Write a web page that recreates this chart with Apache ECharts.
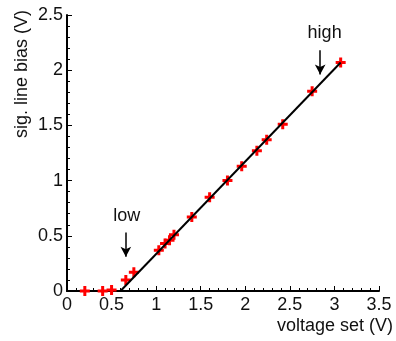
<!DOCTYPE html>
<html>
<head>
<meta charset="utf-8">
<script src="https://cdn.jsdelivr.net/npm/echarts@6/dist/echarts.min.js"></script>
<style>
  html, body { margin: 0; padding: 0; background: #fff; }
  #chart { width: 396px; height: 341px; }
</style>
</head>
<body>
<div id="chart"></div>
<script>
// measured points (voltage set, sig. line bias)
const voltageSet = [0.2, 0.4, 0.5, 0.66, 0.75, 1.03, 1.1, 1.15, 1.2, 1.4, 1.6, 1.8, 1.96, 2.13, 2.24, 2.42, 2.75, 3.07]
const lineBias = [0.0, 0.0, 0.01, 0.1, 0.17, 0.37, 0.43, 0.46, 0.51, 0.67, 0.85, 1.0, 1.13, 1.27, 1.37, 1.51, 1.81, 2.07]

// linear fit endpoints
const fitX = [0.6, 3.07]
const fitY = [0.0, 2.07]

// annotation arrows: [x, yFrom, yTo]
const lowArrow = [0.66, 0.53, 0.31]
const highArrow = [2.84, 2.18, 1.96]
const lowLabel = [0.67, 0.68]
const highLabel = [2.89, 2.34]

const font = 'Liberation Sans, Arial, sans-serif'
const fontSize = 18
const crossPath = 'path://M3.5,0h3v3.5h3.5v3h-3.5v3.5h-3v-3.5h-3.5v-3h3.5z'

const chart = echarts.init(document.getElementById('chart'))

chart.setOption({
  animation: false,
  grid: { left: 67, right: 15, top: 15, bottom: 50 },
  xAxis: {
    type: 'value',
    min: 0,
    max: 3.5,
    interval: 0.5,
    name: 'voltage set (V)',
    nameLocation: 'end',
    nameGap: 14,
    nameTextStyle: {
      fontFamily: font, fontSize: fontSize, color: '#111',
      align: 'right', verticalAlign: 'top', padding: [26, 0, 0, 0],
    },
    axisLine: { onZero: false, lineStyle: { color: '#000', width: 2 } },
    axisTick: { inside: true, length: 5, lineStyle: { color: '#000', width: 1 } },
    minorTick: { show: true, splitNumber: 5, length: 3, lineStyle: { color: '#000' } },
    axisLabel: { fontFamily: font, fontSize: fontSize, color: '#111', margin: 5 },
    splitLine: { show: false },
  },
  yAxis: {
    type: 'value',
    min: 0,
    max: 2.5,
    interval: 0.5,
    name: 'sig. line bias (V)',
    nameLocation: 'end',
    nameRotate: 90,
    nameGap: 5,
    nameTextStyle: {
      fontFamily: font, fontSize: fontSize, color: '#111',
      align: 'right', verticalAlign: 'bottom', padding: [0, 0, 36, 0],
    },
    axisLine: { onZero: false, lineStyle: { color: '#000', width: 2 } },
    axisTick: { inside: true, length: 5, lineStyle: { color: '#000', width: 1 } },
    minorTick: { show: true, splitNumber: 5, length: 3, lineStyle: { color: '#000' } },
    axisLabel: { fontFamily: font, fontSize: fontSize, color: '#111', margin: 4 },
    splitLine: { show: false },
  },
  series: [
    {
      type: 'scatter',
      data: voltageSet.map((v, i) => [v, lineBias[i]]),
      symbol: crossPath,
      symbolSize: 10,
      itemStyle: { color: '#ff0000', opacity: 1 },
      z: 2,
    },
    {
      type: 'line',
      data: fitX.map((v, i) => [v, fitY[i]]),
      showSymbol: false,
      lineStyle: { color: '#000', width: 2 },
      z: 3,
      markLine: {
        silent: true,
        symbol: ['none', 'arrow'],
        symbolSize: [8, 10],
        label: { show: false },
        lineStyle: { color: '#000', width: 1.5, type: 'solid' },
        data: [
          [{ coord: [lowArrow[0], lowArrow[1]] }, { coord: [lowArrow[0], lowArrow[2]] }],
          [{ coord: [highArrow[0], highArrow[1]] }, { coord: [highArrow[0], highArrow[2]] }],
        ],
      },
      markPoint: {
        silent: true,
        symbol: 'circle',
        symbolSize: 1,
        itemStyle: { color: 'rgba(0,0,0,0)' },
        label: {
          show: true, position: 'inside', fontFamily: font, fontSize: fontSize, color: '#111',
          formatter: (p) => p.name,
        },
        data: [
          { name: 'low', coord: lowLabel },
          { name: 'high', coord: highLabel },
        ],
      },
    },
  ],
})
</script>
</body>
</html>
